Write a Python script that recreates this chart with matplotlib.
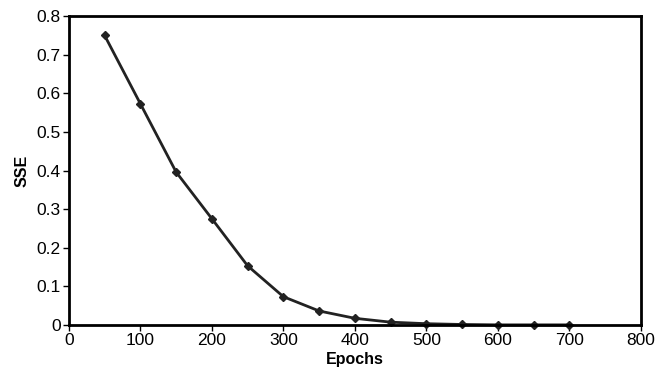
import matplotlib
matplotlib.use('Agg')
import matplotlib.pyplot as plt

plt.rcParams['font.family'] = ['Liberation Sans', 'DejaVu Sans']

# SSE per training epoch
epochs = [50, 100, 150, 200, 250, 300, 350, 400, 450, 500, 550, 600, 650, 700]
sse = [0.750, 0.573, 0.396, 0.275, 0.153, 0.073, 0.036, 0.017, 0.007, 0.003, 0.001, 0.0, 0.0, 0.0]

fig = plt.figure(figsize=(6.56, 3.76), dpi=100)
ax = fig.add_axes([0.105, 0.136, 0.872, 0.821])
ax.plot(epochs, sse, color='#222222', linewidth=2, marker='D', markersize=4,
        solid_joinstyle='round', clip_on=False)

ax.set_xlim(0, 800)
ax.set_ylim(0, 0.8)
ax.set_xticks(range(0, 801, 100))
ax.set_yticks([0, 0.1, 0.2, 0.3, 0.4, 0.5, 0.6, 0.7, 0.8])
ax.set_yticklabels(['0', '0.1', '0.2', '0.3', '0.4', '0.5', '0.6', '0.7', '0.8'])
ax.tick_params(labelsize=12.5, direction='out', length=4, width=1, pad=2)
for s in ax.spines.values():
    s.set_linewidth(2)
ax.set_xlabel('Epochs', fontsize=11.5, fontweight='bold', labelpad=3)
ax.set_ylabel('SSE', fontsize=11.5, fontweight='bold', labelpad=5)

fig.savefig('out.png', dpi=100)
